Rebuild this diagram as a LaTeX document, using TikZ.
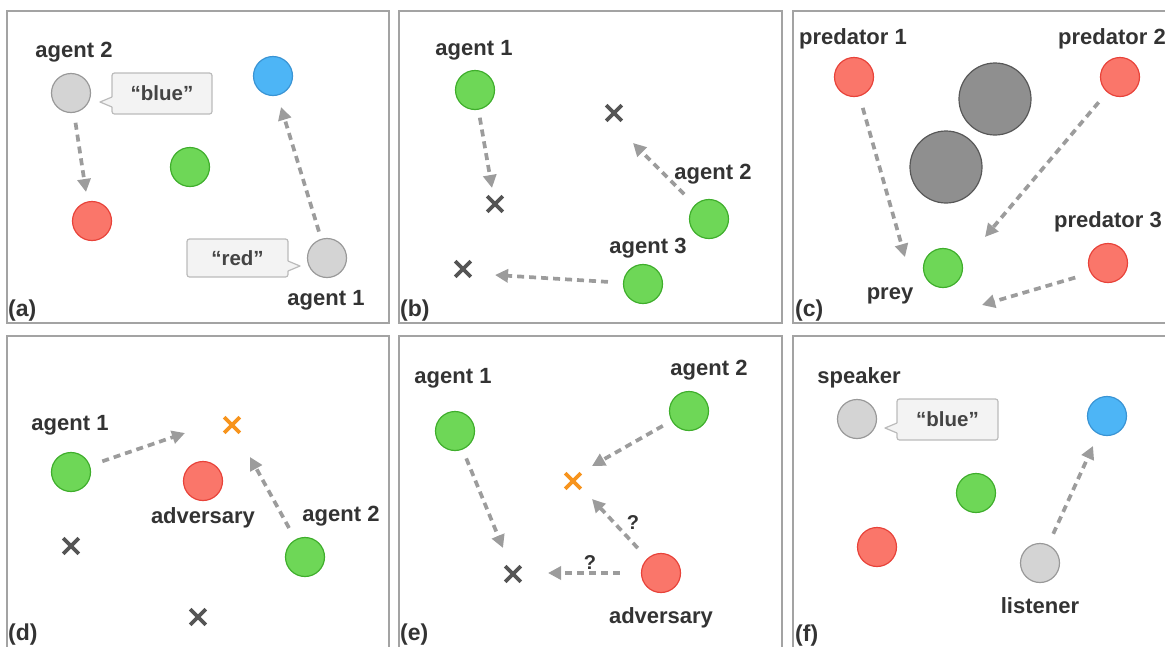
\documentclass[tikz,border=0pt]{standalone}
\usepackage{fontspec}
\setmainfont{Liberation Sans}
\usetikzlibrary{arrows.meta,shapes.misc,calc}
\definecolor{txt}{HTML}{333333}
\definecolor{grnF}{HTML}{6ED757}
\definecolor{grnB}{HTML}{3FAE2C}
\definecolor{redF}{HTML}{FA766A}
\definecolor{redB}{HTML}{E8433A}
\definecolor{bluF}{HTML}{4DB5F6}
\definecolor{bluB}{HTML}{3A94D4}
\definecolor{gryF}{HTML}{D4D4D4}
\definecolor{gryB}{HTML}{999999}
\definecolor{lmF}{HTML}{8F8F8F}
\definecolor{lmB}{HTML}{585858}
\definecolor{arrowc}{HTML}{9C9C9C}
\definecolor{xgray}{HTML}{555555}
\definecolor{orng}{HTML}{F7941D}
\definecolor{bubF}{HTML}{F3F3F3}
\definecolor{bubB}{HTML}{BBBBBB}
\definecolor{bubT}{HTML}{444444}
\definecolor{panelc}{HTML}{A3A3A3}
\tikzset{
  ent/.style={circle, minimum size=39pt, inner sep=0pt, line width=1.2pt},
  grn/.style={ent, fill=grnF, draw=grnB},
  red/.style={ent, fill=redF, draw=redB},
  blu/.style={ent, fill=bluF, draw=bluB},
  gry/.style={ent, fill=gryF, draw=gryB},
  landmark/.style={circle, minimum size=72pt, inner sep=0pt, line width=1.2pt, fill=lmF, draw=lmB},
  lbl/.style={text=txt, font=\fontsize{22}{24}\selectfont\bfseries, inner sep=0pt},
  plbl/.style={text=txt, font=\fontsize{23}{25}\selectfont\bfseries, inner sep=0pt, anchor=west},
  qm/.style={text=txt, font=\fontsize{20}{22}\selectfont\bfseries, inner sep=0pt},
  flow/.style={draw=arrowc, line width=3.7pt, dash pattern=on 7pt off 5pt, -{Triangle[length=13pt,width=13pt]}},
  xm/.style={cross out, draw=xgray, minimum size=12pt, inner sep=0pt, line width=3.6pt},
  xo/.style={xm, draw=orng},
  bub/.style={draw=bubB, fill=bubF, line width=1.2pt, rounded corners=2.5pt, text=bubT, font=\fontsize{20.5}{22}\selectfont\bfseries, inner sep=0pt},
  ptrfill/.style={fill=bubF},
  ptrline/.style={draw=bubB, line width=1.2pt, line join=round},
  panel/.style={draw=panelc, line width=1.2pt},
}
\begin{document}
\begin{tikzpicture}[x=1pt,y=-1pt]
\useasboundingbox (0,0) rectangle (1165,646);
\clip (0,0) rectangle (1165,646);
% panels
\draw[panel] (7,11) rectangle (389,323);
\draw[panel] (399,11) rectangle (782,323);
\draw[panel] (793,11) rectangle (1176,323);
\draw[panel] (7,336) rectangle (389,660);
\draw[panel] (399,336) rectangle (782,660);
\draw[panel] (793,336) rectangle (1176,660);

% ---------- (a)
\node[gry] (a2) at (71,93) {};
\node[lbl] (a2l) at (74,52) {agent 2};
\node[bub, minimum width=100pt, minimum height=41pt] (ab) at (162,93.5) {“blue”};
\fill[ptrfill] (113,107) -- (100,102) -- (113,97) -- cycle;
\draw[ptrline] (112,107) -- (100,102) -- (112,97);
\node[blu] (ablu) at (273,76) {};
\node[grn] (agrn) at (190,167) {};
\node[red] (ared) at (92,221) {};
\node[gry] (a1) at (327,258) {};
\node[lbl] (a1l) at (326,300) {agent 1};
\node[bub, minimum width=101pt, minimum height=38pt] (ar) at (237.5,258) {“red”};
\fill[ptrfill] (287,261) -- (300,266) -- (287,271) -- cycle;
\draw[ptrline] (288,261) -- (300,266) -- (288,271);
\coordinate (at1) at (86,192);
\coordinate (at2) at (281,107);
\draw[flow, shorten <=10pt] (a2) -- (at1);
\draw[flow, shorten <=7.5pt] (a1) -- (at2);
\node[plbl] (la) at (8,311) {(a)};

% ---------- (b)
\node[grn] (b1) at (475,90) {};
\node[lbl] (b1l) at (474,50) {agent 1};
\node[xm] (bx1) at (495,204) {};
\node[xm] (bx2) at (614,113) {};
\node[xm] (bx3) at (463,269) {};
\node[grn] (b2) at (709,219) {};
\node[lbl] (b2l) at (713,174) {agent 2};
\node[grn] (b3) at (643,284) {};
\node[lbl] (b3l) at (648,248) {agent 3};
\coordinate (bt1) at (492,188);
\coordinate (bt2) at (633,143);
\coordinate (bt3) at (495,275);
\draw[flow, shorten <=8pt] (b1) -- (bt1);
\draw[flow, shorten <=15pt] (b2) -- (bt2);
\draw[flow, shorten <=15pt] (b3) -- (bt3);
\node[plbl] (lb) at (400,311) {(b)};

% ---------- (c)
\node[red] (p1) at (854,77) {};
\node[lbl] (p1l) at (853,39) {predator 1};
\node[landmark] (L1) at (995,99) {};
\node[landmark] (L2) at (946,167) {};
\node[red] (p2) at (1120,77) {};
\node[lbl, anchor=west] (p2l) at (1058,39) {predator 2};
\node[red] (p3) at (1108,263) {};
\node[lbl, anchor=west] (p3l) at (1054,222) {predator 3};
\node[grn] (prey) at (943,268) {};
\node[lbl] (preyl) at (890,296) {prey};
\coordinate (ct1) at (905,257);
\coordinate (ct2) at (985,237);
\coordinate (ct3) at (982,305);
\draw[flow, shorten <=12pt] (p1) -- (ct1);
\draw[flow, shorten <=13pt] (p2) -- (ct2);
\draw[flow, shorten <=16pt] (p3.210) -- (ct3);
\node[plbl] (lc) at (795,311) {(c)};

% ---------- (d)
\node[grn] (d1) at (71,472) {};
\node[lbl] (d1l) at (70,425) {agent 1};
\node[xo] (dxo) at (232,425) {};
\node[red] (dadv) at (203,481) {};
\node[lbl] (dadvl) at (203,518) {adversary};
\node[grn] (d2) at (305,557) {};
\node[lbl] (d2l) at (341,516) {agent 2};
\node[xm] (dx1) at (71,546) {};
\node[xm] (dx2) at (198,617) {};
\coordinate (dt1) at (185,433);
\coordinate (dt2) at (250,457);
\draw[flow, shorten <=13pt] (d1) -- (dt1);
\draw[flow, shorten <=13pt] (d2) -- (dt2);
\node[plbl] (ld) at (8,635) {(d)};

% ---------- (e)
\node[grn] (e1) at (455,431) {};
\node[lbl] (e1l) at (453,378) {agent 1};
\node[xm] (ex) at (513,574) {};
\node[grn] (e2) at (689,411) {};
\node[lbl] (e2l) at (709,370) {agent 2};
\node[xo] (exo) at (573,481) {};
\node[red] (eadv) at (661,573) {};
\node[lbl] (eadvl) at (661,618) {adversary};
\coordinate (et1) at (503,548);
\coordinate (et2) at (592,466);
\coordinate (et3) at (592,499);
\coordinate (et4) at (548,573);
\draw[flow, shorten <=9.5pt] (e1) -- (et1);
\draw[flow, shorten <=10pt] (e2) -- (et2);
\draw[flow, shorten <=14pt] (eadv) -- (et3);
\draw[flow, shorten <=21pt] (eadv) -- (et4);
\node[qm] (q1) at (633,523) {?};
\node[qm] (q2) at (590,563) {?};
\node[plbl] (le) at (400,635) {(e)};

% ---------- (f)
\node[gry] (spk) at (857,419) {};
\node[lbl] (spkl) at (859,378) {speaker};
\node[bub, minimum width=101pt, minimum height=41pt] (fb) at (947.5,419.5) {“blue”};
\fill[ptrfill] (898,433) -- (885,428) -- (898,423) -- cycle;
\draw[ptrline] (897,433) -- (885,428) -- (897,423);
\node[blu] (fblu) at (1107,416) {};
\node[grn] (fgrn) at (976,493) {};
\node[red] (fred) at (877,547) {};
\node[gry] (lis) at (1040,563) {};
\node[lbl] (lisl) at (1040,606) {listener};
\coordinate (ft1) at (1093,446);
\draw[flow, shorten <=12pt] (lis) -- (ft1);
\node[plbl] (lf) at (795,636) {(f)};
\end{tikzpicture}
\end{document}
